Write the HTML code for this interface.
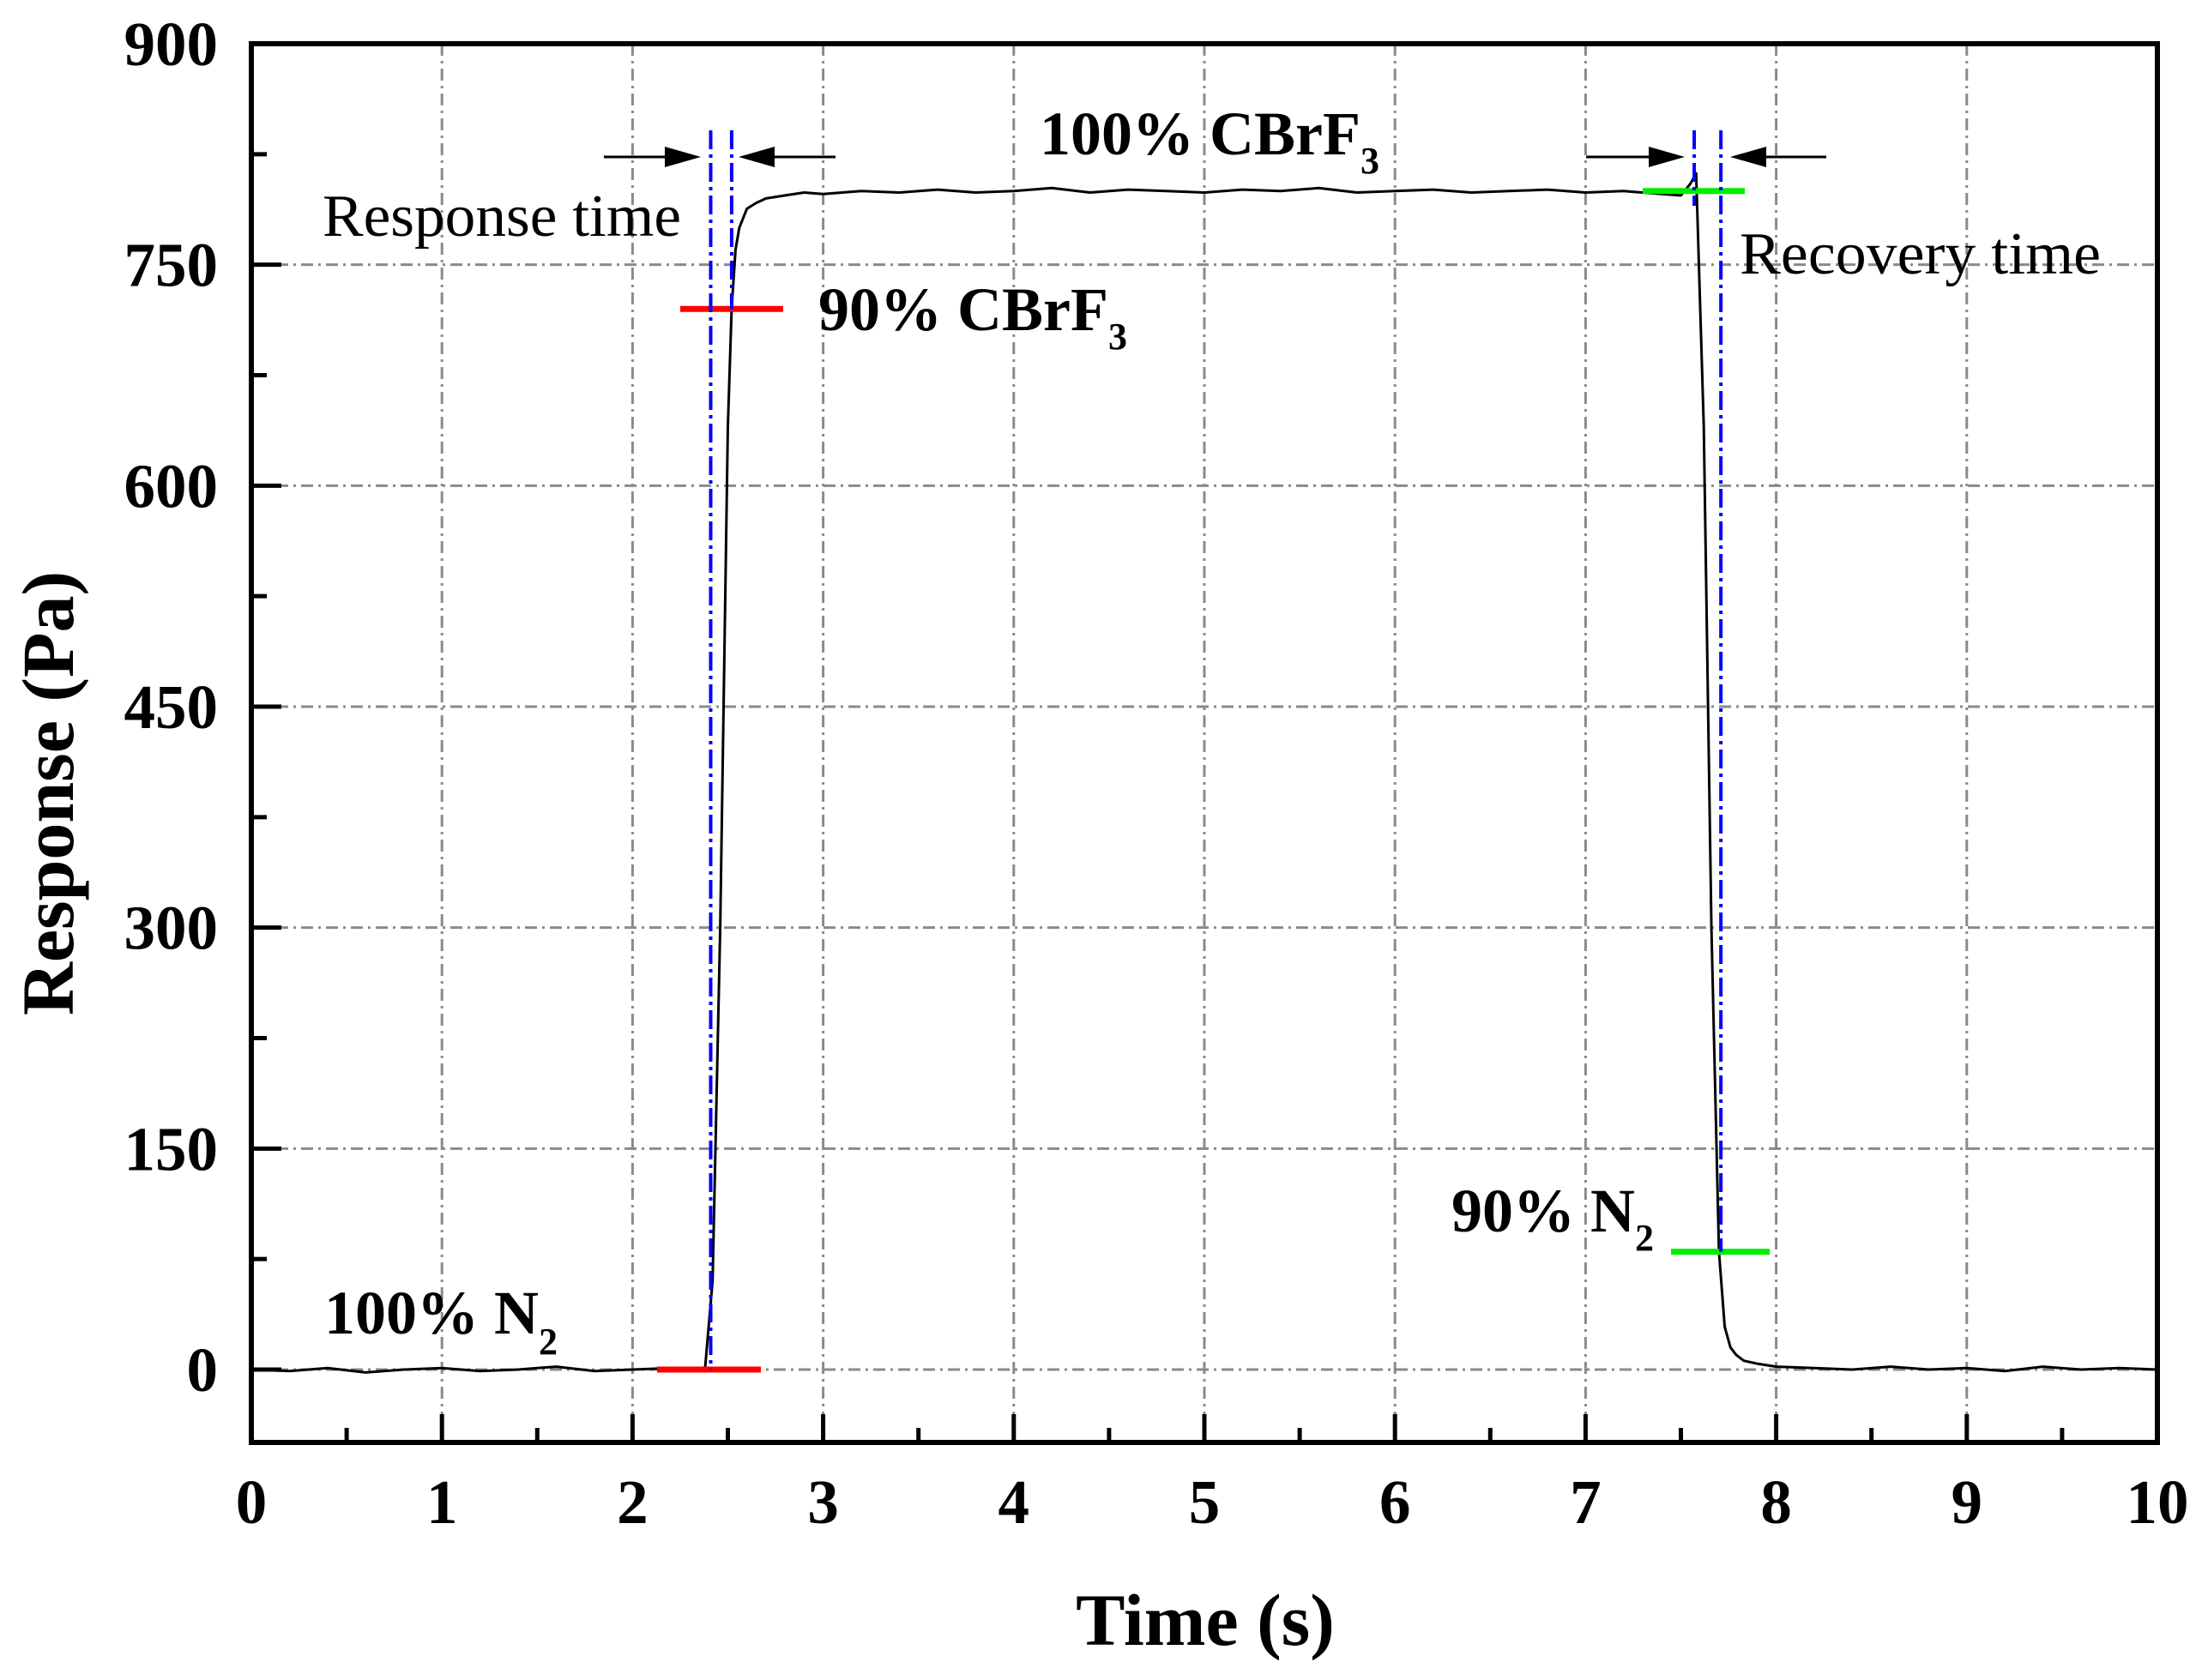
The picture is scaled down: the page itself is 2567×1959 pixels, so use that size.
<!DOCTYPE html>
<html><head><meta charset="utf-8"><style>
html,body{margin:0;padding:0;background:#fff;}
svg{display:block;}
text{font-family:"Liberation Serif",serif;fill:#000;}
</style></head><body>
<svg id="chart" width="2567" height="1959" viewBox="0 0 2567 1959" xmlns="http://www.w3.org/2000/svg">
<g id="grid"></g>
<g id="series"></g>
<g id="anno"></g>
<g id="axes"></g>
</svg>
<script>
const xTicks = [0,1,2,3,4,5,6,7,8,9,10];
const yTicks = [0,150,300,450,600,750,900];
const timeVals = [0,0.2,0.4,0.6,0.8,1.0,1.2,1.4,1.6,1.8,2.0,2.2,2.38,2.42,2.46,2.5,2.52,2.54,2.56,2.6,2.65,2.7,2.8,2.9,3.0,3.2,3.4,3.6,3.8,4.0,4.2,4.4,4.6,4.8,5.0,5.2,5.4,5.6,5.8,6.0,6.2,6.4,6.6,6.8,7.0,7.2,7.4,7.5,7.55,7.58,7.62,7.66,7.70,7.73,7.76,7.79,7.83,7.9,8.0,8.2,8.4,8.6,8.8,9.0,9.2,9.4,9.6,9.8,10.0];
const respVals = [0,-1,1,-2,0,1,-1,0,2,-1,0,1,0,60,300,640,720,760,775,788,792,795,797,799,798,800,799,801,799,800,802,799,801,800,799,801,800,802,799,800,801,799,800,801,799,800,798,797,805,812,640,300,80,29,15,10,6,4,2,1,0,2,0,1,-1,2,0,1,0];
const labels90 = {cbrf3:720, n2:80, full:800};

const L=293,R=2515,T=51,B=1682,Y0=1597;
const xs=t=>L+t*(R-L)/10;
const ys=v=>Y0-v*(Y0-T)/900;
const NS="http://www.w3.org/2000/svg";
function mk(tag,attrs,parent){const e=document.createElementNS(NS,tag);for(const k in attrs)e.setAttribute(k,attrs[k]);parent.appendChild(e);return e;}
const grid=document.getElementById('grid'),series=document.getElementById('series'),anno=document.getElementById('anno'),axes=document.getElementById('axes');

// grid
xTicks.forEach(t=>{if(t>0&&t<10){const g=mk('line',{x1:xs(t),x2:xs(t),y1:T,y2:B,stroke:'#8a8a8a','stroke-width':3,'stroke-dasharray':'14 6 3 6'},grid);

}});
yTicks.forEach(v=>{if(v>0&&v<900){const g=mk('line',{x1:L,x2:R,y1:ys(v),y2:ys(v),stroke:'#8a8a8a','stroke-width':3,'stroke-dasharray':'14 6 3 6'},grid);

}});
{const g=mk('line',{x1:L,x2:R,y1:ys(0),y2:ys(0),stroke:'#8a8a8a','stroke-width':3,'stroke-dasharray':'14 6 3 6'},grid);

}

// series
let d='';timeVals.forEach((t,i)=>{d+=(i?'L':'M')+xs(t).toFixed(1)+' '+ys(respVals[i]).toFixed(1);});
const p=mk('path',{d:d,fill:'none',stroke:'#000','stroke-width':3,'stroke-linejoin':'round'},series);



// red/green markers
function hl(x1,x2,v,col,name){const e=mk('line',{x1:x1,x2:x2,y1:ys(v),y2:ys(v),stroke:col,'stroke-width':7},anno);

}
hl(766,887,0,'#ff0000','red-marker-zero');
hl(793,913,labels90.cbrf3,'#ff0000','red-marker-90-cbrf3');
hl(1915,2034,labels90.full,'#00ee00','green-marker-full');
hl(1948,2063,labels90.n2,'#00ee00','green-marker-90-n2');
// blue dash-dot verticals
function vl(t,v2,name){const e=mk('line',{x1:xs(t),x2:xs(t),y1:152,y2:ys(v2),stroke:'#0000ff','stroke-width':4,'stroke-dasharray':'22 6 4 6'},anno);

}
vl(2.41,0,'response-start-line');vl(2.52,720,'response-end-line');vl(7.57,790,'recovery-start-line');vl(7.71,80,'recovery-end-line');
// arrows
function arrow(x1,x2,name){const y=183;const dir=x2>x1?1:-1;
const g=mk('g',{},anno);


mk('line',{x1:x1,x2:x2-dir*40,y1:y,y2:y,stroke:'#000','stroke-width':3},g);
mk('polygon',{points:`${x2},${y} ${x2-dir*42},${y-12} ${x2-dir*42},${y+12}`,fill:'#000'},g);}
arrow(704,817,'response-arrow-left');arrow(974,861,'response-arrow-right');
arrow(1849,1964,'recovery-arrow-left');arrow(2129,2017,'recovery-arrow-right');

// axes frame
const fr=mk('rect',{x:L,y:T,width:R-L,height:B-T,fill:'none',stroke:'#000','stroke-width':6},axes);


xTicks.forEach(t=>{const e=mk('line',{x1:xs(t),x2:xs(t),y1:B,y2:B-33,stroke:'#000','stroke-width':5},axes);


if(t<10){const m=mk('line',{x1:xs(t+0.5),x2:xs(t+0.5),y1:B,y2:B-17,stroke:'#000','stroke-width':5},axes);

}
const tx=mk('text',{x:xs(t),y:1776,'font-size':73,'font-weight':'bold','text-anchor':'middle'},axes);tx.textContent=t;

});
yTicks.forEach(v=>{const e=mk('line',{x1:L,x2:L+35,y1:ys(v),y2:ys(v),stroke:'#000','stroke-width':5},axes);


if(v<900){const m=mk('line',{x1:L,x2:L+18,y1:ys(v+75),y2:ys(v+75),stroke:'#000','stroke-width':5},axes);

}
const tx=mk('text',{x:254,y:ys(v)+25,'font-size':73,'font-weight':'bold','text-anchor':'end'},axes);tx.textContent=v;

});
</script>
<svg style="position:absolute;left:0;top:0" width="2567" height="1959">
<text x="1405" y="1918" font-size="86" font-weight="bold" text-anchor="middle">Time (s)</text>
<text transform="translate(85,925) rotate(-90)" font-size="86" font-weight="bold" text-anchor="middle">Response (Pa)</text>
<text x="376" y="275" font-size="70" textLength="418" lengthAdjust="spacingAndGlyphs">Response time</text>
<text x="2028" y="319" font-size="70" textLength="421" lengthAdjust="spacingAndGlyphs">Recovery time</text>
<text x="1212" y="180" font-size="72" font-weight="bold">100% CBrF<tspan font-size="44" dy="22">3</tspan></text>
<text x="954" y="385" font-size="72" font-weight="bold">90% CBrF<tspan font-size="44" dy="22">3</tspan></text>
<text x="1692" y="1436" font-size="72" font-weight="bold">90% N<tspan font-size="44" dy="22">2</tspan></text>
<text x="378" y="1555" font-size="72" font-weight="bold">100%  N<tspan font-size="44" dy="24">2</tspan></text>
</svg>
</body></html>
